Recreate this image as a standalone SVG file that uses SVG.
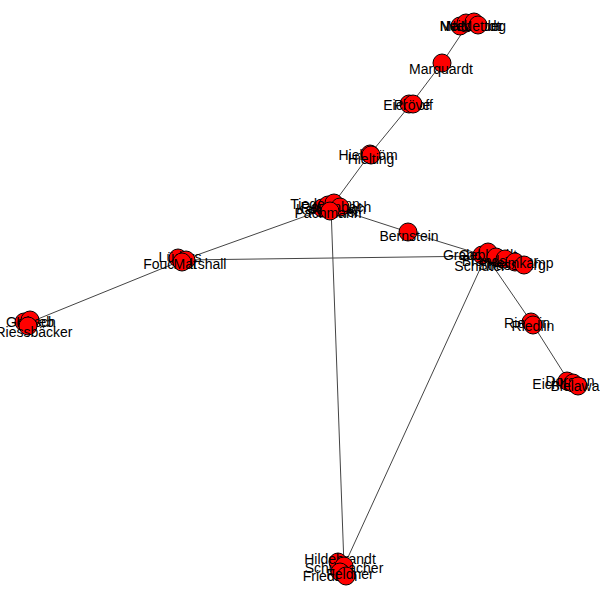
<svg xmlns="http://www.w3.org/2000/svg" width="600" height="600" viewBox="0 0 600 600">
<style>
.n circle{fill:#ff0000;stroke:#000;stroke-width:1}
.n text{font-family:"Liberation Sans",Arial,sans-serif;font-size:14px;fill:#000;text-anchor:middle}
.e line{stroke:#444;stroke-width:1}
</style>
<rect width="600" height="600" fill="#fff"/>
<g id="edges" class="e">
<line x1="468" y1="24" x2="442" y2="63"/>
<line x1="442" y1="63" x2="411" y2="104"/>
<line x1="411" y1="104" x2="370" y2="154"/>
<line x1="370" y1="154" x2="331" y2="207"/>
<line x1="331" y1="207" x2="183" y2="260"/>
<line x1="331" y1="207" x2="408" y2="232"/>
<line x1="408" y1="232" x2="486" y2="256"/>
<line x1="183" y1="260" x2="486" y2="256"/>
<line x1="183" y1="260" x2="28" y2="323"/>
<line x1="331" y1="207" x2="344" y2="566"/>
<line x1="486" y1="256" x2="344" y2="566"/>
<line x1="486" y1="256" x2="532" y2="323"/>
<line x1="532" y1="323" x2="570" y2="383"/>
</g>
<g id="n_top1" class="n"><circle cx="460" cy="26" r="9"/><text x="462" y="31">Maurer</text></g>
<g id="n_top2" class="n"><circle cx="466" cy="23" r="9"/><text x="470" y="31">Neidhardt</text></g>
<g id="n_top3" class="n"><circle cx="474" cy="22" r="9"/><text x="476" y="31">Nebelung</text></g>
<g id="n_top4" class="n"><circle cx="478" cy="25" r="9"/><text x="482" y="31">Mettler</text></g>
<g id="n_marquardt" class="n"><circle cx="442" cy="63" r="9"/><text x="441" y="74">Marquardt</text></g>
<g id="n_eck1" class="n"><circle cx="409" cy="104" r="9"/><text x="408" y="110">Eickhoff</text></g>
<g id="n_eck2" class="n"><circle cx="413" cy="104" r="9"/><text x="412" y="110">Pröve</text></g>
<g id="n_hiel1" class="n"><circle cx="370" cy="154" r="9"/><text x="368" y="160">Hielström</text></g>
<g id="n_hiel2" class="n"><circle cx="371" cy="155" r="9"/><text x="371" y="164">Hielting</text></g>
<g id="n_c1" class="n"><circle cx="322" cy="208" r="9"/><text x="331" y="214">Kaltenbach</text></g>
<g id="n_c2" class="n"><circle cx="328" cy="205" r="9"/><text x="325" y="209">Tiedemann</text></g>
<g id="n_c3" class="n"><circle cx="334" cy="203" r="9"/><text x="333" y="217">Pöschel</text></g>
<g id="n_c4" class="n"><circle cx="340" cy="207" r="9"/><text x="336" y="212">Rosenbach</text></g>
<g id="n_c5" class="n"><circle cx="330" cy="211" r="9"/><text x="328" y="218">Pachmann</text></g>
<g id="n_bernstein" class="n"><circle cx="408" cy="232" r="9"/><text x="409" y="241">Bernstein</text></g>
<g id="n_r1" class="n"><circle cx="482" cy="255" r="9"/><text x="476" y="260">Grabowski</text></g>
<g id="n_r2" class="n"><circle cx="488" cy="252" r="9"/><text x="488" y="260">Gebhardt</text></g>
<g id="n_r3" class="n"><circle cx="496" cy="257" r="9"/><text x="480" y="271">Schlüter</text></g>
<g id="n_r4" class="n"><circle cx="505" cy="259" r="9"/><text x="500" y="266">Brandstetter</text></g>
<g id="n_r5" class="n"><circle cx="515" cy="262" r="9"/><text x="512" y="270">Strassburg</text></g>
<g id="n_r6" class="n"><circle cx="524" cy="265" r="9"/><text x="520" y="268">Heimkamp</text></g>
<g id="n_rk1" class="n"><circle cx="531" cy="322" r="9"/><text x="527" y="328">Rieckin</text></g>
<g id="n_rk2" class="n"><circle cx="533" cy="325" r="9"/><text x="533" y="331">Riedlin</text></g>
<g id="n_br1" class="n"><circle cx="567" cy="381" r="9"/><text x="560" y="389">Eichhorn</text></g>
<g id="n_br2" class="n"><circle cx="573" cy="383" r="9"/><text x="570" y="386">Dorsten</text></g>
<g id="n_br3" class="n"><circle cx="578" cy="386" r="9"/><text x="575" y="391">Bielawa</text></g>
<g id="n_lm1" class="n"><circle cx="178" cy="258" r="9"/><text x="180" y="262">Lüders</text></g>
<g id="n_lm2" class="n"><circle cx="186" cy="260" r="9"/><text x="170" y="269">Foucault</text></g>
<g id="n_lm3" class="n"><circle cx="182" cy="262" r="9"/><text x="200" y="269">Marshall</text></g>
<g id="n_l1" class="n"><circle cx="24" cy="322" r="9"/><text x="30" y="327">Gottlieb</text></g>
<g id="n_l2" class="n"><circle cx="30" cy="320" r="9"/><text x="36" y="327">Hirsch</text></g>
<g id="n_l3" class="n"><circle cx="28" cy="326" r="9"/><text x="34" y="337">Riessbäcker</text></g>
<g id="n_b1" class="n"><circle cx="338" cy="562" r="9"/><text x="340" y="564">Hildebrandt</text></g>
<g id="n_b2" class="n"><circle cx="344" cy="566" r="9"/><text x="344" y="573">Schumacher</text></g>
<g id="n_b3" class="n"><circle cx="340" cy="572" r="9"/><text x="330" y="581">Friedrich</text></g>
<g id="n_b4" class="n"><circle cx="346" cy="576" r="9"/><text x="350" y="579">Feldner</text></g>
</svg>
